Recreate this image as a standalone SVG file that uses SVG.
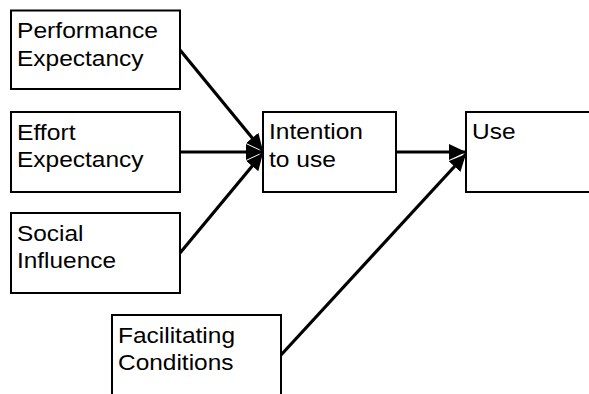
<svg xmlns="http://www.w3.org/2000/svg" width="589" height="394" viewBox="0 0 589 394">
<style>
.box{fill:#fff;stroke:#000;stroke-width:2}
.t{font-family:"Liberation Sans",Arial,sans-serif;font-size:22.5px;fill:#000}
.c{stroke:#000;stroke-width:3.2;fill:none}
</style>
<defs>
<marker id="ah" markerUnits="userSpaceOnUse" markerWidth="18" markerHeight="16" refX="17" refY="8" orient="auto">
<path d="M0,0 L17,8 L0,16 Z" fill="#000"/>
</marker>
</defs>
<rect width="589" height="394" fill="#fff"/>
<g id="n-pe"><rect class="box" x="11" y="10.5" width="169" height="78.5"/>
<text class="t" x="17" y="38" textLength="141" lengthAdjust="spacingAndGlyphs">Performance</text>
<text class="t" x="17" y="65.5" textLength="126.5" lengthAdjust="spacingAndGlyphs">Expectancy</text></g>
<g id="n-ee"><rect class="box" x="11" y="112" width="169" height="80"/>
<text class="t" x="17" y="139.5" textLength="58.5" lengthAdjust="spacingAndGlyphs">Effort</text>
<text class="t" x="17" y="167" textLength="126.5" lengthAdjust="spacingAndGlyphs">Expectancy</text></g>
<g id="n-si"><rect class="box" x="11" y="213" width="169" height="80"/>
<text class="t" x="17" y="240.5" textLength="66.5" lengthAdjust="spacingAndGlyphs">Social</text>
<text class="t" x="17" y="268" textLength="99" lengthAdjust="spacingAndGlyphs">Influence</text></g>
<g id="n-fc"><rect class="box" x="112" y="315" width="169" height="100"/>
<text class="t" x="118" y="342.5" textLength="117" lengthAdjust="spacingAndGlyphs">Facilitating</text>
<text class="t" x="118" y="370" textLength="115.5" lengthAdjust="spacingAndGlyphs">Conditions</text></g>
<g id="n-iu"><rect class="box" x="263" y="112" width="133" height="80"/>
<text class="t" x="269" y="138.5" textLength="94" lengthAdjust="spacingAndGlyphs">Intention</text>
<text class="t" x="269" y="166.5" textLength="67" lengthAdjust="spacingAndGlyphs">to use</text></g>
<g id="n-use"><rect class="box" x="466" y="112" width="140" height="80"/>
<text class="t" x="472" y="139" textLength="43.5" lengthAdjust="spacingAndGlyphs">Use</text></g>
<g id="connectors">
<line class="c" x1="180" y1="50" x2="263" y2="151" marker-end="url(#ah)"/>
<line class="c" x1="180" y1="152" x2="263" y2="152" marker-end="url(#ah)"/>
<line class="c" x1="180" y1="253" x2="263" y2="153" marker-end="url(#ah)"/>
<line class="c" x1="396" y1="152" x2="466" y2="152" marker-end="url(#ah)"/>
<line class="c" x1="281" y1="355" x2="466" y2="154" marker-end="url(#ah)"/>
</g>
</svg>
